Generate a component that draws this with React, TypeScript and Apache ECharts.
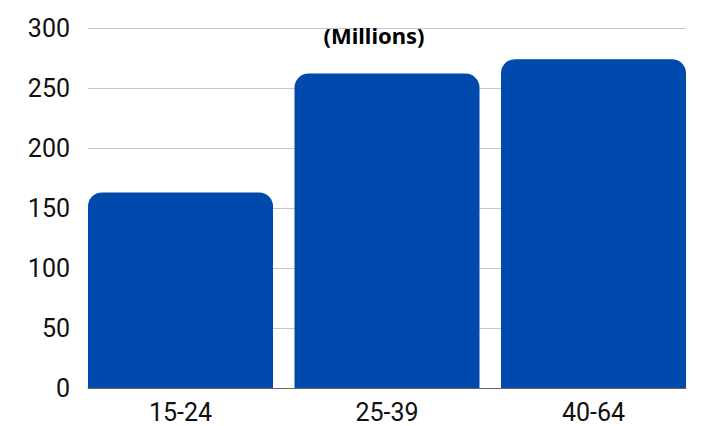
import React, { useEffect, useRef } from "react";
import * as echarts from "echarts";

const categories = ["15-24", "25-39", "40-64"];
const values = [163, 262, 274];
const yTicks = { min: 0, max: 300, interval: 50 };
const titleText = "(Millions)";

export default function App() {
  const ref = useRef<HTMLDivElement>(null);
  useEffect(() => {
    if (!ref.current) return;
    const chart = echarts.init(ref.current, undefined, { renderer: "svg" });
    chart.setOption({
      animation: false,
      title: {
        text: titleText,
        left: 374,
        top: 22,
        padding: 0,
        textAlign: "center",
        textStyle: { fontFamily: "Noto Sans", fontWeight: "bold", fontSize: 22, lineHeight: 26, color: "#000" },
      },
      grid: [
        { left: 88, right: 15, top: 28, bottom: 38 },
        { left: 77.25, right: 4.25, top: 28, bottom: 38 },
      ],
      xAxis: [
        {
          type: "category",
          gridIndex: 0,
          data: categories,
          axisLine: { show: true, lineStyle: { color: "#666", width: 1 } },
          axisTick: { show: false },
          axisLabel: { show: false },
        },
        {
          type: "category",
          gridIndex: 1,
          data: categories,
          axisLine: { show: false },
          axisTick: { show: false },
          axisLabel: {
            fontFamily: "Roboto",
            fontSize: 25,
            color: "#111",
            margin: 12,
          },
        },
      ],
      yAxis: [
        {
          type: "value",
          gridIndex: 0,
          min: yTicks.min,
          max: yTicks.max,
          interval: yTicks.interval,
          axisLine: { show: false },
          axisTick: { show: false },
          axisLabel: { fontFamily: "Roboto", fontSize: 25, color: "#111", margin: 18 },
          splitLine: { lineStyle: { color: "#c8c8c8", width: 1 } },
        },
        {
          type: "value",
          gridIndex: 1,
          min: yTicks.min,
          max: yTicks.max,
          interval: yTicks.interval,
          show: false,
          splitLine: { show: false },
        },
      ],
      series: [
        {
          type: "bar",
          xAxisIndex: 1,
          yAxisIndex: 1,
          data: values,
          barWidth: 185,
          itemStyle: { color: "#004AAD", borderRadius: [14, 14, 0, 0] },
        },
      ],
    });
    return () => chart.dispose();
  }, []);
  return <div ref={ref} style={{ width: 701, height: 426, position: "absolute", left: 0, top: 0 }} />;
}
